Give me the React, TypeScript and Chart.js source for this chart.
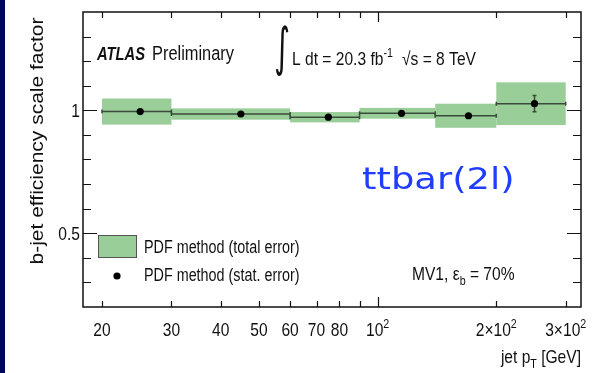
import React, { useEffect, useRef } from 'react';
import { Chart, registerables } from 'chart.js';
Chart.register(...registerables);

// ---- data ----
const binLow = [20, 30, 60, 90, 140, 200];
const binHigh = [30, 60, 90, 140, 200, 300];
const binCenter = [25, 45, 75, 115, 170, 250];
const scaleFactor = [0.995, 0.985, 0.972, 0.988, 0.978, 1.027];
const statError = [0.005, 0.004, 0.004, 0.004, 0.006, 0.033];
const totalError = [0.053, 0.023, 0.021, 0.022, 0.049, 0.087];

const xTickValues = [20, 30, 40, 50, 60, 70, 80, 90, 100, 200, 300];
const xTickLabels = ['20', '30', '40', '50', '60', '70', '80', '', '10^{2}', '2×10^{2}', '3×10^{2}'];
const xMajorTicks = [100];
const yTickValues = [0.3, 0.4, 0.5, 0.6, 0.7, 0.8, 0.9, 1.0, 1.1, 1.2, 1.3];
const yMajorTicks = [0.5, 1.0];
const yTickLabels = ['0.5', '1'];

const SANS = '"Liberation Sans", Arial, Helvetica, sans-serif';
const NAVY = '#00075c';
const GREEN = 'rgb(153,206,153)';
const LINE = '#3a4a3a';

type Seg = { t: string; sup?: boolean; sub?: boolean };
function parseRich(m: string): Seg[] {
  const out: Seg[] = [];
  const re = /([\^_])\{([^}]*)\}/g;
  let last = 0;
  let mm: RegExpExecArray | null;
  while ((mm = re.exec(m))) {
    if (mm.index > last) out.push({ t: m.slice(last, mm.index) });
    out.push({ t: mm[2], sup: mm[1] === '^', sub: mm[1] === '_' });
    last = re.lastIndex;
  }
  if (last < m.length) out.push({ t: m.slice(last) });
  return out;
}

function drawRich(
  ctx: CanvasRenderingContext2D,
  markup: string,
  x: number,
  y: number,
  opt: { size: number; align?: 'left' | 'center' | 'right'; sx?: number; family?: string; style?: string; color?: string }
) {
  const segs = parseRich(markup);
  const sx = opt.sx ?? 0.82;
  const fam = opt.family ?? SANS;
  const st = opt.style ?? '';
  const fontFor = (s: Seg) => `${st} ${s.sup || s.sub ? Math.round(opt.size * 0.66) : opt.size}px ${fam}`;
  let total = 0;
  const widths = segs.map((s) => {
    ctx.font = fontFor(s);
    const w = ctx.measureText(s.t).width * sx;
    total += w;
    return w;
  });
  const align = opt.align ?? 'left';
  let cx = align === 'center' ? x - total / 2 : align === 'right' ? x - total : x;
  ctx.fillStyle = opt.color ?? '#111';
  ctx.textBaseline = 'alphabetic';
  ctx.textAlign = 'left';
  segs.forEach((s, i) => {
    ctx.font = fontFor(s);
    const dy = s.sup ? -opt.size * 0.42 : s.sub ? opt.size * 0.25 : 0;
    ctx.save();
    ctx.translate(cx, y + dy);
    ctx.scale(sx, 1);
    ctx.fillText(s.t, 0, 0);
    ctx.restore();
    cx += widths[i];
  });
}

const atlasPlugin = {
  id: 'atlasDecor',
  beforeDraw(chart: any) {
    const ctx = chart.ctx as CanvasRenderingContext2D;
    ctx.save();
    ctx.fillStyle = '#ffffff';
    ctx.fillRect(0, 0, chart.width, chart.height);
    ctx.fillStyle = NAVY;
    ctx.fillRect(0, 0, 5, chart.height);
    ctx.restore();
  },
  beforeDatasetsDraw(chart: any) {
    const ctx = chart.ctx as CanvasRenderingContext2D;
    const xs = chart.scales.x;
    const ys = chart.scales.y;
    ctx.save();
    // total-error boxes
    ctx.fillStyle = GREEN;
    for (let i = 0; i < binLow.length; i++) {
      const x0 = xs.getPixelForValue(binLow[i]);
      const x1 = xs.getPixelForValue(binHigh[i]);
      const y0 = ys.getPixelForValue(scaleFactor[i] + totalError[i]);
      const y1 = ys.getPixelForValue(scaleFactor[i] - totalError[i]);
      ctx.fillRect(x0, y0, x1 - x0, y1 - y0);
    }
    // bin lines + stat errors
    ctx.strokeStyle = LINE;
    ctx.lineWidth = 1.5;
    for (let i = 0; i < binLow.length; i++) {
      const x0 = xs.getPixelForValue(binLow[i]);
      const x1 = xs.getPixelForValue(binHigh[i]);
      const yv = ys.getPixelForValue(scaleFactor[i]);
      ctx.beginPath();
      ctx.moveTo(x0, yv);
      ctx.lineTo(x1, yv);
      ctx.moveTo(x0, yv - 2);
      ctx.lineTo(x0, yv + 2);
      ctx.moveTo(x1, yv - 2);
      ctx.lineTo(x1, yv + 2);
      ctx.stroke();
      const xc = xs.getPixelForValue(binCenter[i]);
      const ya = ys.getPixelForValue(scaleFactor[i] + statError[i]);
      const yb = ys.getPixelForValue(scaleFactor[i] - statError[i]);
      ctx.beginPath();
      ctx.moveTo(xc, ya);
      ctx.lineTo(xc, yb);
      ctx.moveTo(xc - 2, ya);
      ctx.lineTo(xc + 2, ya);
      ctx.moveTo(xc - 2, yb);
      ctx.lineTo(xc + 2, yb);
      ctx.stroke();
    }
    ctx.restore();
  },
  afterDraw(chart: any) {
    const ctx = chart.ctx as CanvasRenderingContext2D;
    const xs = chart.scales.x;
    const ys = chart.scales.y;
    const a = chart.chartArea;
    ctx.save();
    // frame
    ctx.strokeStyle = '#111';
    ctx.lineWidth = 1.5;
    ctx.strokeRect(a.left, a.top, a.right - a.left, a.bottom - a.top);
    // x ticks
    ctx.lineWidth = 1.2;
    ctx.beginPath();
    xTickValues.forEach((v) => {
      const px = Math.round(xs.getPixelForValue(v)) + 0.5;
      const len = xMajorTicks.includes(v) ? 10 : 6;
      ctx.moveTo(px, a.bottom);
      ctx.lineTo(px, a.bottom - len);
      ctx.moveTo(px, a.top);
      ctx.lineTo(px, a.top + len);
    });
    // y ticks
    yTickValues.forEach((v) => {
      const py = Math.round(ys.getPixelForValue(v)) + 0.5;
      const len = yMajorTicks.some((m) => Math.abs(m - v) < 1e-9) ? 14 : 8;
      ctx.moveTo(a.left, py);
      ctx.lineTo(a.left + len, py);
      ctx.moveTo(a.right, py);
      ctx.lineTo(a.right - len, py);
    });
    ctx.stroke();
    // x tick labels
    xTickValues.forEach((v, i) => {
      if (!xTickLabels[i]) return;
      drawRich(ctx, xTickLabels[i], xs.getPixelForValue(v), a.bottom + 29, { size: 19, align: 'center' });
    });
    // y tick labels
    yMajorTicks.forEach((v, i) => {
      drawRich(ctx, yTickLabels[i], a.left - 3, ys.getPixelForValue(v) + 7, { size: 19, align: 'right' });
    });
    // axis titles
    drawRich(ctx, 'jet p_{T} [GeV]', a.right, 363, { size: 19, align: 'right' });
    ctx.save();
    ctx.translate(43, 141);
    ctx.rotate(-Math.PI / 2);
    ctx.scale(1, 0.87);
    ctx.font = `21px ${SANS}`;
    ctx.fillStyle = '#111';
    ctx.textAlign = 'center';
    ctx.textBaseline = 'alphabetic';
    ctx.fillText('b-jet efficiency scale factor', 0, 0);
    ctx.restore();
    // header texts
    drawRich(ctx, 'ATLAS', 97, 60, { size: 18, style: 'italic bold' });
    drawRich(ctx, 'Preliminary', 152, 60, { size: 20 });
    ctx.save();
    ctx.translate(274, 65);
    ctx.scale(0.85, 1.45);
    ctx.font = '36px "DejaVu Sans", sans-serif';
    ctx.fillStyle = '#111';
    ctx.textAlign = 'left';
    ctx.textBaseline = 'alphabetic';
    ctx.fillText('∫', 0, 0);
    ctx.restore();
    drawRich(ctx, 'L dt = 20.3 fb^{-1}', 292, 65, { size: 19 });
    drawRich(ctx, '√s = 8 TeV', 402, 65, { size: 19 });
    // annotation
    drawRich(ctx, 'ttbar(2l)', 362, 189, { size: 30, sx: 1.23, family: '"DejaVu Sans", sans-serif', color: '#1f3cff' });
    drawRich(ctx, 'MV1, ε_{b} = 70%', 412, 280, { size: 19 });
    // legend
    ctx.fillStyle = GREEN;
    ctx.fillRect(98, 235, 38, 22);
    ctx.strokeStyle = '#555';
    ctx.lineWidth = 1;
    ctx.strokeRect(98.5, 235.5, 38, 22);
    ctx.fillStyle = '#000';
    ctx.beginPath();
    ctx.arc(117, 276, 3.6, 0, Math.PI * 2);
    ctx.fill();
    drawRich(ctx, 'PDF method (total error)', 144, 253, { size: 17.5 });
    drawRich(ctx, 'PDF method (stat. error)', 144, 281, { size: 17.5 });
    ctx.restore();
  },
};

export default function App() {
  const ref = useRef<HTMLCanvasElement | null>(null);
  useEffect(() => {
    document.body.style.margin = '0';
    const canvas = ref.current;
    if (!canvas) return;
    const chart = new Chart(canvas, {
      type: 'scatter',
      data: {
        datasets: [
          {
            label: 'PDF method (stat. error)',
            data: binCenter.map((x, i) => ({ x, y: scaleFactor[i] })),
            pointRadius: 3.6,
            pointBackgroundColor: '#000',
            pointBorderColor: '#000',
            pointBorderWidth: 0,
            showLine: false,
          },
        ],
      },
      options: {
        animation: false,
        responsive: false,
        devicePixelRatio: 1,
        layout: { padding: { left: 83, top: 12, right: 20, bottom: 66 } },
        plugins: { legend: { display: false }, tooltip: { enabled: false } },
        scales: {
          x: { type: 'logarithmic', min: 17.9, max: 328, display: false },
          y: { type: 'linear', min: 0.2, max: 1.4, display: false },
        },
      },
      plugins: [atlasPlugin],
    } as any);
    return () => chart.destroy();
  }, []);
  return (
    <div style={{ width: 601, height: 373, position: 'relative', background: '#fff' }}>
      <canvas ref={ref} width={601} height={373} style={{ display: 'block', width: 601, height: 373 }} />
    </div>
  );
}
